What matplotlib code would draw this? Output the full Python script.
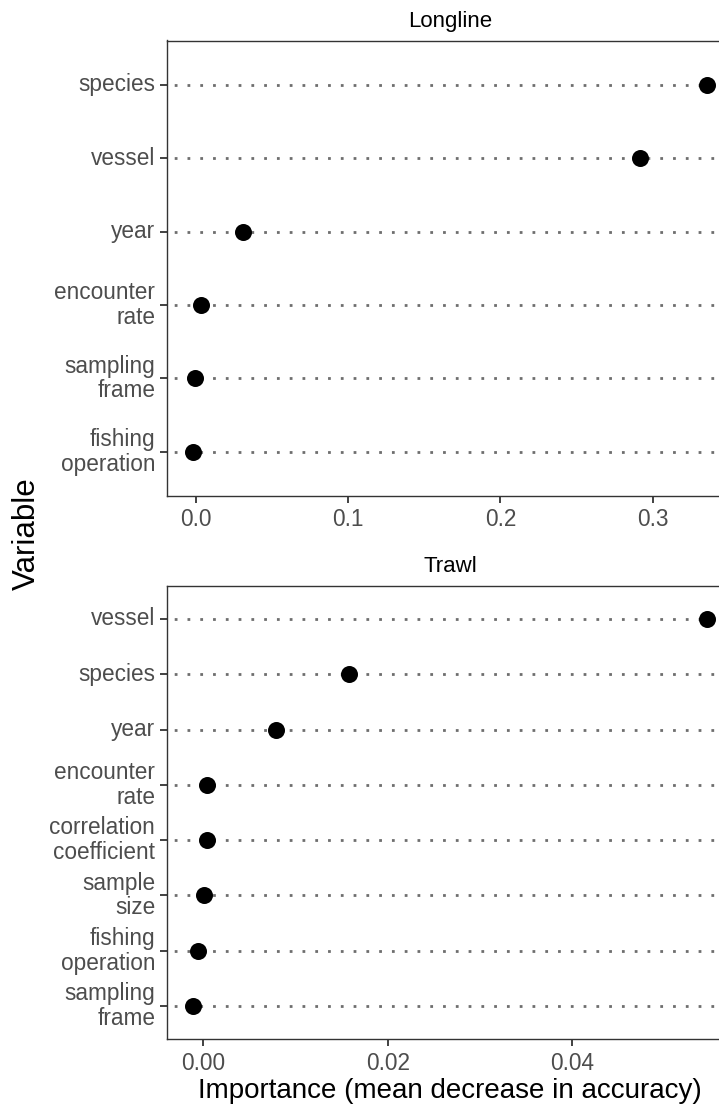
import matplotlib

matplotlib.use("Agg")

import matplotlib.pyplot as plt
import numpy as np

plt.rcParams["font.family"] = ["Liberation Sans", "DejaVu Sans"]

# values
longline_vars = ["species", "vessel", "year", "encounter\nrate", "sampling\nframe", "fishing\noperation"]
longline_imp = [0.3358, 0.2916, 0.0311, 0.0035, -0.0004, -0.0019]

trawl_vars = ["vessel", "species", "year", "encounter\nrate", "correlation\ncoefficient",
              "sample\nsize", "fishing\noperation", "sampling\nframe"]
trawl_imp = [0.0546, 0.0158, 0.0079, 0.0004, 0.0004, 0.0001, -0.00055, -0.00114]

longline_ticks = [0.0, 0.1, 0.2, 0.3]
longline_ticklabels = ["0.0", "0.1", "0.2", "0.3"]
trawl_ticks = [0.00, 0.02, 0.04]
trawl_ticklabels = ["0.00", "0.02", "0.04"]

W, H = 719, 1104
fig = plt.figure(figsize=(W / 100, H / 100), dpi=100)

EDGE = "#333333"
TICKTEXT = "#4D4D4D"


def panel(rect, names, values, ticks, ticklabels, title):
    ax = fig.add_axes(rect)
    n = len(names)
    y = np.arange(n)
    for yy in y:
        ax.axhline(yy, color="#6E6E6E", lw=2.0, linestyle=(2, (1, 3.6)), zorder=1)
    ax.scatter(values, y, s=150, color="black", zorder=3, linewidths=0)
    # ggplot-like 5% expansion of the data range
    lo, hi = min(values), max(values)
    pad = 0.05 * (hi - lo)
    ax.set_xlim(lo - pad, hi + pad)
    ax.set_ylim(n - 1 + 0.6, -0.6)
    ax.set_yticks(y)
    ax.set_yticklabels(names, linespacing=1.1, va="center")
    ax.set_xticks(ticks)
    ax.set_xticklabels(ticklabels)
    ax.tick_params(axis="both", length=5, width=1.3, color=EDGE,
                   labelsize=16.3, labelcolor=TICKTEXT)
    ax.tick_params(axis="y", pad=3.5)
    ax.tick_params(axis="x", pad=4)
    for sp in ax.spines.values():
        sp.set_color(EDGE)
        sp.set_linewidth(1.0)
    ax.set_title(title, fontsize=16, color="black", pad=10)
    return ax


left = 167 / W
width = 566 / W
panel([left, 1 - 496 / H, width, (496 - 40.5) / H],
      longline_vars, longline_imp, longline_ticks, longline_ticklabels, "Longline")
panel([left, 1 - 1039.2 / H, width, (1039.2 - 585.8) / H],
      trawl_vars, trawl_imp, trawl_ticks, trawl_ticklabels, "Trawl")

fig.text(27 / W, 1 - 534 / H, "Variable", rotation=90, ha="center", va="center",
         fontsize=22.5, color="black")
fig.text(450 / W, 6 / H, "Importance (mean decrease in accuracy)", ha="center",
         va="baseline", fontsize=20, color="black")

fig.savefig("out.png", dpi=100)
